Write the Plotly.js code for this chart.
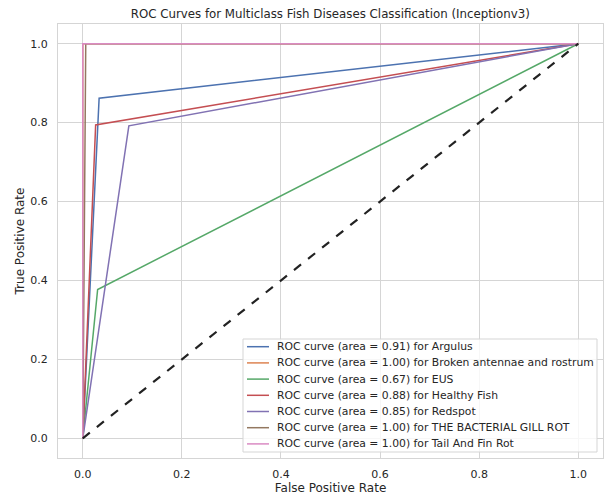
<!DOCTYPE html>
<html>
<head>
<meta charset="utf-8">
<script src="https://cdn.plot.ly/plotly-3.0.1.min.js"></script>
<style>html,body{margin:0;padding:0;background:#fff;}#chart{width:614px;height:499px;}</style>
</head>
<body>
<div id="chart"></div>
<script>
const classNames = ["Argulus", "Broken antennae and rostrum", "EUS", "Healthy Fish", "Redspot", "THE BACTERIAL GILL ROT", "Tail And Fin Rot"];
const aucValues = [0.91, 1.00, 0.67, 0.88, 0.85, 1.00, 1.00];
const fprArgulus = [0, 0.033, 1];
const tprArgulus = [0, 0.862, 1];
const fprBroken = [0, 0, 1];
const tprBroken = [0, 1, 1];
const fprEUS = [0, 0.030, 1];
const tprEUS = [0, 0.377, 1];
const fprHealthy = [0, 0.026, 1];
const tprHealthy = [0, 0.794, 1];
const fprRedspot = [0, 0.093, 1];
const tprRedspot = [0, 0.792, 1];
const fprGill = [0, 0.006, 1];
const tprGill = [0, 1, 1];
const fprTail = [0, 0, 1];
const tprTail = [0, 1, 1];
const chanceX = [0, 1];
const chanceY = [0, 1];
const xTicks = [0, 0.2, 0.4, 0.6, 0.8, 1.0];
const yTicks = [0, 0.2, 0.4, 0.6, 0.8, 1.0];

const fprs = [fprArgulus, fprBroken, fprEUS, fprHealthy, fprRedspot, fprGill, fprTail];
const tprs = [tprArgulus, tprBroken, tprEUS, tprHealthy, tprRedspot, tprGill, tprTail];
const colors = ["#4c72b0", "#dd8452", "#55a868", "#c44e52", "#8172b3", "#937860", "#da8bc3"];
const labels = classNames.map((n, i) => "ROC curve (area = " + aucValues[i].toFixed(2) + ") for " + n);

const traces = classNames.map((n, i) => ({
  x: fprs[i], y: tprs[i], type: "scatter", mode: "lines",
  name: labels[i], showlegend: false,
  line: {color: colors[i], width: 1.5}
}));
traces.push({x: chanceX, y: chanceY, type: "scatter", mode: "lines", showlegend: false,
  line: {color: "#222222", width: 2.2, dash: "dash"}});

// Legend (matplotlib-style, lower right) built from the same arrays
const plotW = 545, plotH = 434;
const legX0 = 185 / plotW, legX1 = 539 / plotW;
const legY0 = 6 / plotH, legY1 = 119 / plotH;
const rowTop = 111.3, rowStep = 16.2;
const shapes = [{type: "rect", xref: "paper", yref: "paper", x0: legX0, x1: legX1, y0: legY0, y1: legY1,
  fillcolor: "rgba(255,255,255,0.8)", line: {color: "#d5d5d5", width: 1}, layer: "above"}];
const annotations = [];
labels.forEach((lab, i) => {
  const yy = (rowTop - i * rowStep) / plotH;
  shapes.push({type: "line", xref: "paper", yref: "paper", x0: 189 / plotW, x1: 211 / plotW, y0: yy, y1: yy,
    line: {color: colors[i], width: 1.5}, layer: "above"});
  annotations.push({xref: "paper", yref: "paper", x: 217 / plotW, y: yy, xanchor: "left", yanchor: "middle",
    text: lab, showarrow: false, font: {family: "DejaVu Sans", size: 10.8, color: "#262626"}});
});

const tickFmt = v => v.toFixed(1);
const axisCommon = {
  showgrid: true, gridcolor: "#d5d5d5", gridwidth: 1,
  zeroline: false, showline: true, mirror: true, linecolor: "#d5d5d5", linewidth: 1,
  ticks: "", tickfont: {family: "DejaVu Sans", size: 11, color: "#262626"},
  range: [-0.05, 1.05]
};
const layout = {
  width: 614, height: 499,
  margin: {l: 58, r: 11, t: 24, b: 41},
  paper_bgcolor: "#ffffff", plot_bgcolor: "#ffffff",
  title: {text: "ROC Curves for Multiclass Fish Diseases Classification (Inceptionv3)",
    font: {family: "DejaVu Sans", size: 11.8, color: "#262626"}, x: 0.538, xanchor: "center", y: 0.972, yanchor: "middle"},
  xaxis: Object.assign({}, axisCommon, {tickvals: xTicks, ticktext: xTicks.map(tickFmt), ticklabelstandoff: 6,
    title: {text: "False Positive Rate", font: {family: "DejaVu Sans", size: 12, color: "#262626"}, standoff: 1}}),
  yaxis: Object.assign({}, axisCommon, {tickvals: yTicks, ticktext: yTicks.map(tickFmt), ticklabelstandoff: 7,
    title: {text: "True Positive Rate", font: {family: "DejaVu Sans", size: 12, color: "#262626"}, standoff: 3}}),
  shapes: shapes,
  annotations: annotations,
  showlegend: false
};
Plotly.newPlot("chart", traces, layout, {displayModeBar: false, staticPlot: true});
</script>
</body>
</html>
